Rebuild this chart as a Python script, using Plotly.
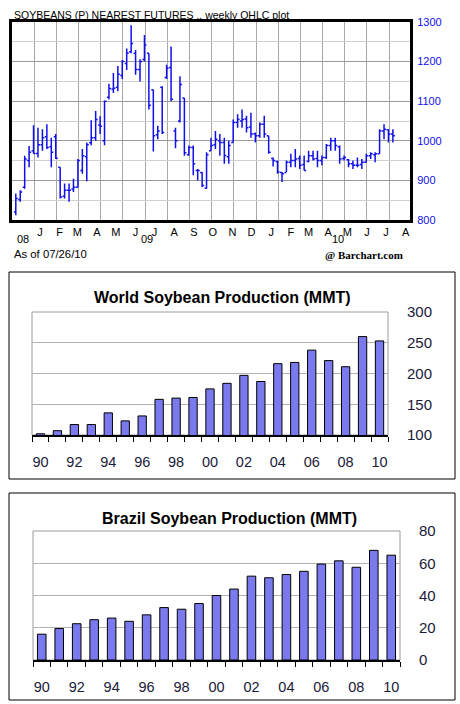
import pandas as pd
import plotly.graph_objects as go

W, H = 460, 704

# ---- weekly OHLC, soybeans nearest futures (cents/bu) ----
first_week = "2008-12-08"
opens = [820, 852, 883, 950, 975, 968, 990, 1010, 985, 1010,
         933, 860, 875, 878, 883, 925, 960, 995, 1008, 1040,
         1000, 1110, 1130, 1135, 1165, 1195, 1225, 1221, 1180, 1205,
         1221, 1129, 1015, 1135, 1160, 1185, 1025, 1050, 1108, 965,
         983, 925, 920, 880, 975, 990, 1000, 996, 960, 996,
         1046, 1050, 1055, 1035, 1018, 1013, 1042, 1013, 955, 948,
         920, 920, 946, 950, 955, 940, 948, 962, 955, 950,
         958, 988, 1000, 985, 955, 952, 942, 938, 940, 946,
         962, 965, 967, 1025, 1028, 1017]
highs = [867, 875, 962, 987, 1039, 1033, 1029, 1042, 1008, 1017,
         933, 892, 892, 904, 954, 979, 996, 1052, 1075, 1062,
         1102, 1144, 1171, 1189, 1204, 1233, 1292, 1229, 1206, 1267,
         1221, 1129, 1038, 1138, 1192, 1238, 1033, 1163, 1108, 988,
         988, 929, 921, 971, 1008, 1025, 1017, 1008, 1000, 1054,
         1067, 1079, 1063, 1071, 1021, 1046, 1063, 1013, 958, 950,
         921, 950, 967, 979, 963, 963, 975, 975, 975, 963,
         992, 1008, 1008, 988, 963, 954, 950, 958, 954, 967,
         971, 971, 1029, 1042, 1029, 1029]
lows = [812, 846, 879, 933, 967, 958, 975, 979, 933, 954,
        854, 854, 846, 871, 883, 917, 898, 989, 1000, 1017,
        989, 1104, 1121, 1125, 1156, 1179, 1221, 1167, 1150, 1200,
        1079, 973, 1004, 1017, 1156, 1100, 981, 1046, 962, 962,
        913, 900, 883, 879, 975, 979, 962, 942, 942, 996,
        1033, 1033, 1021, 1008, 996, 1008, 1008, 967, 935, 917,
        896, 921, 933, 933, 929, 925, 946, 950, 933, 938,
        954, 975, 975, 942, 950, 933, 929, 933, 929, 946,
        954, 946, 967, 1004, 996, 996]
closes = [854, 871, 954, 971, 968, 990, 1008, 983, 971, 956,
          858, 875, 875, 883, 950, 962, 990, 1008, 1054, 1037,
          1100, 1132, 1133, 1168, 1200, 1221, 1246, 1180, 1200, 1242,
          1090, 1013, 1025, 1021, 1183, 1105, 1000, 1142, 970, 983,
          942, 925, 887, 965, 988, 1004, 996, 963, 988, 1046,
          1054, 1054, 1033, 1017, 1013, 1042, 1017, 971, 950, 921,
          917, 946, 950, 954, 938, 925, 962, 954, 950, 958,
          988, 1000, 988, 954, 958, 942, 938, 938, 946, 962,
          967, 967, 1025, 1029, 1017, 1013]
weeks = pd.date_range(first_week, periods=len(closes), freq="7D")

month_letters = ["J", "F", "M", "A", "M", "J", "J", "A", "S", "O",
                 "N", "D", "J", "F", "M", "A", "M", "J", "J", "A"]
month_ticks = pd.date_range("2009-01-01", periods=len(month_letters), freq="MS") + pd.Timedelta(days=14)
year_marks = ["2008-12-19", "2009-07-03", "2010-04-30"]
year_texts = ["08", "09", "10"]

# ---- annual production, million metric tons ----
years = list(range(1990, 2011))
year_tick_vals = years[::2]
year_tick_text = ["90", "92", "94", "96", "98", "00", "02", "04", "06", "08", "10"]
world_prod = [102, 107, 117, 117, 136, 123, 131, 158, 160, 161, 175,
              184, 197, 187, 216, 218, 238, 221, 211, 260, 253]
brazil_prod = [16, 19.5, 22.5, 25, 26, 24, 28, 32.5, 31.5, 35, 40,
               44, 52, 51, 53, 55, 59.5, 61.5, 57.5, 68, 65]


def fx(px):
    return px / W


def fy(py):
    return 1 - py / H


BLUE = "#1010ee"
BAR = "#7a7aee"
NAVY = "#1a1a3a"

fig = go.Figure()

fig.add_trace(go.Ohlc(
    x=weeks, open=opens, high=highs, low=lows, close=closes,
    increasing_line_color=BLUE, decreasing_line_color=BLUE,
    line_width=1.5, tickwidth=0.45,
    xaxis="x", yaxis="y", showlegend=False, hoverinfo="skip"
))

fig.add_trace(go.Bar(
    x=years, y=world_prod, marker_color=BAR,
    marker_line_color="black", marker_line_width=1,
    xaxis="x2", yaxis="y2", showlegend=False
))

fig.add_trace(go.Bar(
    x=years, y=brazil_prod, marker_color=BAR,
    marker_line_color="black", marker_line_width=1,
    xaxis="x3", yaxis="y3", showlegend=False
))

bar_x = dict(
    range=[1989.5, 2010.5],
    tickmode="array", tickvals=year_tick_vals, ticktext=year_tick_text,
    ticks="", showgrid=False, tickfont=dict(size=14.5, color=NAVY),
    showline=True, linecolor="black", linewidth=1.5,
    minor=dict(dtick=1, tick0=0.5, ticks="outside", ticklen=5,
               tickcolor="black", tickwidth=1),
    ticklabelstandoff=13, zeroline=False, automargin=False
)
bar_y_labels = dict(
    side="right", tickfont=dict(size=15, color=NAVY),
    showgrid=True, gridcolor="#b3b3b3",
    showline=False, ticklabelstandoff=18, zeroline=False, automargin=False
)
bar_y_line = dict(
    side="left", showticklabels=False, showgrid=False,
    showline=True, linecolor="black", linewidth=1.5,
    ticks="outside", ticklen=4, tickcolor="black", zeroline=False, automargin=False
)

fig.update_layout(
    width=W, height=H,
    margin=dict(l=0, r=0, t=0, b=0),
    paper_bgcolor="white", plot_bgcolor="white",
    font=dict(family="Liberation Sans, Arial", color="black"),
    bargap=0.51,
    # top: futures chart
    xaxis=dict(
        domain=[fx(12), fx(410)], anchor="y", type="date",
        range=["2008-12-02", "2010-08-22"],
        rangeslider=dict(visible=False),
        tickmode="array", tickvals=month_ticks, ticktext=month_letters,
        ticks="", showgrid=False, tickfont=dict(size=11),
        showline=True, mirror=True, linecolor="black", linewidth=3,
        minor=dict(dtick=35 * 86400000, tick0="2009-01-06",
                   showgrid=True, gridcolor="#a8a8a8", gridwidth=1),
        zeroline=False, automargin=False
    ),
    yaxis=dict(
        domain=[fy(220), fy(22)], anchor="x", side="right",
        range=[800, 1300], dtick=100,
        tickfont=dict(size=11, color=BLUE),
        showgrid=True, gridcolor="#9a9a9a",
        minor=dict(dtick=50, showgrid=True, gridcolor="#cfcfcf"),
        showline=True, mirror=True, linecolor="black", linewidth=3,
        ticklabelstandoff=2, zeroline=False, automargin=False
    ),
    # middle: world production
    xaxis2=dict(domain=[fx(32), fx(388)], anchor="y2", **bar_x),
    yaxis2=dict(domain=[fy(435), fy(312)], anchor="x2",
                range=[100, 300], dtick=50, **bar_y_labels),
    yaxis4=dict(overlaying="y2", matches="y2", anchor="x2",
                range=[100, 300], dtick=50, **bar_y_line),
    # bottom: brazil production
    xaxis3=dict(domain=[fx(33), fx(400)], anchor="y3", **bar_x),
    yaxis3=dict(domain=[fy(660), fy(531)], anchor="x3",
                range=[0, 80], dtick=20, **bar_y_labels),
    yaxis5=dict(overlaying="y3", matches="y3", anchor="x3",
                range=[0, 80], dtick=20, **bar_y_line),
)

# panel frames and plot-area borders
for y0, y1 in [(272, 479), (493, 700)]:
    fig.add_shape(type="rect", xref="paper", yref="paper",
                  x0=fx(9), x1=fx(455), y0=fy(y1), y1=fy(y0),
                  line=dict(color="black", width=1))
for ax in ["2", "3"]:
    fig.add_shape(type="rect", xref=f"x{ax} domain", yref=f"y{ax} domain",
                  x0=0, x1=1, y0=0, y1=1, layer="below",
                  line=dict(color="#9a9a9a", width=1))

fig.add_annotation(text="SOYBEANS (P) NEAREST FUTURES .. weekly OHLC plot",
                   xref="paper", yref="paper", x=fx(12), y=fy(15.5),
                   xanchor="left", yanchor="middle", showarrow=False,
                   font=dict(size=10.5, color="black"))
for xd, t in zip(year_marks, year_texts):
    fig.add_annotation(text=t, xref="x", yref="paper", x=xd, y=fy(239),
                       xanchor="center", yanchor="middle", showarrow=False,
                       font=dict(size=11, color="black"))
fig.add_annotation(text="As of 07/26/10", xref="paper", yref="paper",
                   x=fx(12), y=fy(254), xanchor="left", yanchor="middle",
                   showarrow=False, font=dict(size=11.3, color="black"))
fig.add_annotation(text="<b>@ Barchart.com</b>", xref="paper", yref="paper",
                   x=fx(405), y=fy(255), xanchor="right", yanchor="middle",
                   showarrow=False,
                   font=dict(family="Liberation Serif, Times New Roman", size=11, color="black"))

fig.add_annotation(text="<b>World Soybean Production (MMT)</b>", xref="paper", yref="paper",
                   x=fx(222), y=fy(297), xanchor="center", yanchor="middle",
                   showarrow=False, font=dict(size=16, color="black"))
fig.add_annotation(text="<b>Brazil Soybean Production (MMT)</b>", xref="paper", yref="paper",
                   x=fx(229), y=fy(518), xanchor="center", yanchor="middle",
                   showarrow=False, font=dict(size=16, color="black"))

# let the 460x704 figure fill the window: no body margin, no line-box gap
page_css = ("document.documentElement.style.cssText='margin:0;padding:0;overflow:hidden';"
            "document.body.style.cssText='margin:0;padding:0;line-height:0;font-size:0;overflow:hidden';")
fig.write_html("out.html", config={"displayModeBar": False}, post_script=page_css)
